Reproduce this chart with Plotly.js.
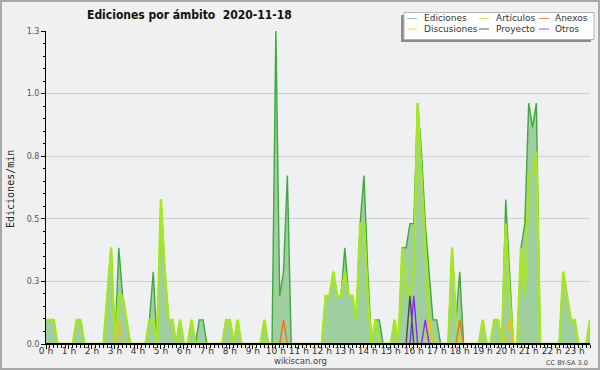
<!DOCTYPE html>
<html><head><meta charset="utf-8">
<script src="https://cdn.plot.ly/plotly-3.0.1.min.js"></script>
<style>
html,body{margin:0;padding:0;background:#f0f0f0;}
#chart{width:600px;height:370px;}
#frame{position:absolute;left:0;top:0;width:596px;height:366px;border:2px solid #a9a9a9;pointer-events:none;}
</style>
</head><body>
<div id="chart"></div><div id="frame"></div>
<script>
// ---- data (edits per minute, 10-minute slots from 00:00) ----
const hourLabels = ['0 h','1 h','2 h','3 h','4 h','5 h','6 h','7 h','8 h','9 h','10 h','11 h',
  '12 h','13 h','14 h','15 h','16 h','17 h','18 h','19 h','20 h','21 h','22 h','23 h'];
const yTickVals = [0, 0.26, 0.52, 0.78, 1.04, 1.3];
const yTickText = ['0.0', '0.3', '0.5', '0.8', '1.0', '1.3'];

const ediciones = [
  0.1,0.1,0.1,0,0,0,   0,0,0.1,0.1,0,0,   0,0,0,0,0.2,0.4,   0,0.4,0.2,0.1,0,0,
  0,0,0,0.1,0.3,0,   0.6,0.3,0.1,0.1,0,0.1,   0,0,0.1,0,0.1,0.1,   0,0,0,0,0,0.1,
  0.1,0,0.1,0,0,0,   0,0,0,0.1,0,0,   1.3,0.2,0.3,0.7,0,0,   0,0,0,0,0,0,
  0,0.2,0.2,0.3,0.2,0.2,   0.4,0.2,0.2,0.1,0.5,0.7,   0.3,0,0.1,0.1,0,0,   0,0.1,0,0.4,0.4,0.5,
  0.5,1.0,0.8,0.5,0.3,0.1,   0.1,0,0,0,0.4,0.1,   0.3,0,0,0,0,0,   0.1,0,0,0.1,0.1,0,
  0.6,0.3,0,0,0.4,0.5,   1.0,0.9,1.0,0,0,0,   0,0,0,0.3,0.2,0.1,   0.1,0,0,0,0.1
];
const articulos = [
  0.1,0.1,0.1,0,0,0,   0,0,0.1,0.1,0,0,   0,0,0,0,0.2,0.4,   0,0.2,0.2,0.1,0,0,
  0,0,0,0.1,0.1,0,   0.6,0.3,0.1,0.1,0,0.1,   0,0,0.1,0,0,0,   0,0,0,0,0,0.1,
  0.1,0,0.1,0,0,0,   0,0,0,0.1,0,0,   0,0,0,0,0,0,   0,0,0,0,0,0,
  0,0.2,0.2,0.3,0.2,0.2,   0.3,0.2,0.2,0.1,0.5,0.5,   0.2,0,0.1,0,0,0,   0,0.1,0,0.4,0.2,0.2,
  0.3,1.0,0.7,0.4,0.1,0,   0,0,0,0,0.4,0.1,   0,0,0,0,0,0,   0.1,0,0,0.1,0.1,0,
  0.5,0.2,0,0,0.4,0.2,   0.7,0.7,0.8,0,0,0,   0,0,0,0.3,0.2,0.1,   0.1,0,0,0,0.1
];
const anexos = [
  0,0,0,0,0,0,   0,0,0,0,0,0,   0,0,0,0,0,0,   0,0,0,0,0,0,
  0,0,0,0,0,0,   0,0,0,0,0,0,   0,0,0,0,0,0,   0,0,0,0,0,0,
  0,0,0,0,0,0,   0,0,0,0,0,0,   0,0,0.1,0,0,0,   0,0,0,0,0,0,
  0,0,0,0,0,0,   0,0,0,0,0,0,   0,0,0,0,0,0,   0,0,0,0,0,0,
  0,0,0,0,0,0,   0,0,0,0,0,0,   0.1,0,0,0,0,0,   0,0,0,0,0,0,
  0,0,0,0,0,0,   0,0,0,0,0,0,   0,0,0,0,0,0,   0,0,0,0,0
];
const discusiones = [
  0,0,0,0,0,0,   0,0,0,0,0,0,   0,0,0,0,0,0,   0,0.1,0,0,0,0,
  0,0,0,0,0,0,   0,0,0,0,0,0,   0,0,0,0,0,0,   0,0,0,0,0,0,
  0,0,0,0,0,0,   0,0,0,0,0,0,   0,0,0,0,0,0,   0,0,0,0,0,0,
  0,0,0,0,0,0,   0,0,0,0,0,0,   0,0,0,0,0,0,   0,0,0,0,0,0,
  0,0,0,0,0.1,0,   0,0,0,0,0,0,   0,0,0,0,0,0,   0,0,0,0,0,0,
  0,0.1,0,0,0,0,   0,0,0,0,0,0,   0,0,0,0,0,0,   0,0,0,0,0
];
const proyecto = [
  0,0,0,0,0,0,   0,0,0,0,0,0,   0,0,0,0,0,0,   0,0,0,0,0,0,
  0,0,0,0,0,0,   0,0,0,0,0,0,   0,0,0,0,0,0,   0,0,0,0,0,0,
  0,0,0,0,0,0,   0,0,0,0,0,0,   0,0,0,0,0,0,   0,0,0,0,0,0,
  0,0,0,0,0,0,   0,0,0,0,0,0,   0,0,0,0,0,0,   0,0,0,0,0,0.2,
  0,0,0,0,0,0,   0,0,0,0,0,0,   0,0,0,0,0,0,   0,0,0,0,0,0,
  0,0,0,0,0,0,   0,0,0,0,0,0,   0,0,0,0,0,0,   0,0,0,0,0
];
const otros = [
  0,0,0,0,0,0,   0,0,0,0,0,0,   0,0,0,0,0,0,   0,0,0,0,0,0,
  0,0,0,0,0,0,   0,0,0,0,0,0,   0,0,0,0,0,0,   0,0,0,0,0,0,
  0,0,0,0,0,0,   0,0,0,0,0,0,   0,0,0,0,0,0,   0,0,0,0,0,0,
  0,0,0,0,0,0,   0,0,0,0,0,0,   0,0,0,0,0,0,   0,0,0,0,0,0,
  0.2,0,0,0.1,0,0,   0,0,0,0,0,0,   0,0,0,0,0,0,   0,0,0,0,0,0,
  0,0,0,0,0,0,   0,0,0,0,0,0,   0,0,0,0,0,0,   0,0,0,0,0
];
const seriesNames = ['Ediciones','Artículos','Anexos','Discusiones','Proyecto','Otros'];

// ---- x grid: minutes of the day for each 10-minute slot ----
const minutes = ediciones.map((_, i) => i * 10);
const hourTickVals = hourLabels.map((_, h) => h * 60);

// ---- styles ----
const S = {
  ediciones: {line: '#3fa83f', fill: '#a0cf9f', legend: '#8fd08f'},
  articulos: {line: '#a6e622', legend: '#c6ec5c'},
  anexos: {line: '#f07222', legend: '#f2875a'},
  discusiones: {line: '#f0c11c', legend: '#f2d25a'},
  proyecto: {line: '#4a4a4a', legend: '#5a5a5a'},
  otros: {line: '#8a2cf0', legend: '#9b55ee'}
};
const FONT = 'DejaVu Sans';

const traces = [
  {x: minutes, y: ediciones, name: seriesNames[0], type: 'scatter', mode: 'lines', fill: 'tozeroy',
   fillcolor: S.ediciones.fill, line: {color: S.ediciones.line, width: 1.4}},
  {x: minutes, y: articulos, name: seriesNames[1], type: 'scatter', mode: 'lines',
   line: {color: S.articulos.line, width: 2.4}},
  {x: minutes, y: anexos, name: seriesNames[2], type: 'scatter', mode: 'lines',
   line: {color: S.anexos.line, width: 1.4}},
  {x: minutes, y: discusiones, name: seriesNames[3], type: 'scatter', mode: 'lines',
   line: {color: S.discusiones.line, width: 1.4}},
  {x: minutes, y: proyecto, name: seriesNames[4], type: 'scatter', mode: 'lines',
   line: {color: S.proyecto.line, width: 1.4}},
  {x: minutes, y: otros, name: seriesNames[5], type: 'scatter', mode: 'lines',
   line: {color: S.otros.line, width: 1.4}}
];

// ---- pixel helpers for decorations (plot area: x 46..590, y 31..344) ----
const PL = 46, PW = 544, PB = 344, PH = 313;
const px = v => (v - PL) / PW;
const py = v => (PB - v) / PH;

const shapes = [
  // zero baseline cover (axis)
  {type: 'line', xref: 'paper', yref: 'y', x0: 0, x1: 1, y0: 0, y1: 0, layer: 'above',
   line: {color: '#000', width: 2}},
  // legend shadow + box
  {type: 'rect', xref: 'paper', yref: 'paper', x0: px(401), x1: px(591), y0: py(42), y1: py(15),
   fillcolor: '#8c8c8c', line: {width: 0}},
  {type: 'rect', xref: 'paper', yref: 'paper', x0: px(404), x1: px(594), y0: py(39.5), y1: py(12.5),
   fillcolor: '#ffffff', line: {color: '#b4b4b4', width: 1}}
];
const annotations = [
  {text: 'Ediciones por ámbito \u00a02020-11-18', xref: 'paper', yref: 'paper', x: px(189), y: py(14.5),
   xanchor: 'center', yanchor: 'middle', showarrow: false,
   font: {family: 'DejaVu Sans Condensed, DejaVu Sans', size: 12, color: '#111', weight: 'bold'}},
  {text: 'Ediciones/min', xref: 'paper', yref: 'paper', x: px(10), y: py(189), textangle: -90,
   xanchor: 'center', yanchor: 'middle', showarrow: false,
   font: {family: 'DejaVu Sans Mono', size: 10, color: '#222'}},
  {text: 'wikiscan.org', xref: 'paper', yref: 'paper', x: px(300), y: py(361.5),
   xanchor: 'center', yanchor: 'middle', showarrow: false,
   font: {family: FONT, size: 8.5, color: '#444'}},
  {text: 'CC BY-SA 3.0', xref: 'paper', yref: 'paper', x: px(590), y: py(362.5),
   xanchor: 'right', yanchor: 'middle', showarrow: false,
   font: {family: FONT, size: 6.5, color: '#444'}}
];
// manual legend (3 columns x 2 rows)
const legendKeys = ['ediciones','articulos','anexos','discusiones','proyecto','otros'];
const colLine = [407, 479, 539], colText = [423, 495, 554], rowY = [18.5, 29];
seriesNames.forEach((name, k) => {
  const c = k % 3, r = Math.floor(k / 3);
  shapes.push({type: 'line', xref: 'paper', yref: 'paper', x0: px(colLine[c]), x1: px(colLine[c] + 10),
    y0: py(rowY[r]), y1: py(rowY[r]), line: {color: S[legendKeys[k]].legend, width: 1}});
  annotations.push({text: name, xref: 'paper', yref: 'paper', x: px(colText[c]), y: py(rowY[r]),
    xanchor: 'left', yanchor: 'middle', showarrow: false, borderpad: 0,
    font: {family: FONT, size: 9, color: '#333'}});
});

const layout = {
  width: 600, height: 370,
  margin: {l: 46, r: 10, t: 31, b: 26, pad: 0},
  paper_bgcolor: '#f0f0f0', plot_bgcolor: '#eff0f1',
  showlegend: false,
  xaxis: {range: [0, 1420], tickmode: 'array', tickvals: hourTickVals, ticktext: hourLabels,
    ticks: 'outside', ticklen: 4, tickcolor: '#000', tickwidth: 1, ticklabelstandoff: -6,
    showline: true, linecolor: '#000', linewidth: 1, showgrid: false, zeroline: false,
    tickfont: {family: FONT, size: 9, color: '#333'}, fixedrange: true,
    minor: {tickmode: 'linear', tick0: 0, dtick: 10, ticks: 'outside', ticklen: 3, tickcolor: '#000', showgrid: false}},
  yaxis: {range: [0, 1.3], tickmode: 'array', tickvals: yTickVals, ticktext: yTickText,
    ticks: 'outside', ticklen: 4, tickcolor: '#000', tickwidth: 1,
    showline: true, linecolor: '#000', linewidth: 1, showgrid: true, gridcolor: '#d0d0d0', gridwidth: 1,
    zeroline: false, tickfont: {family: FONT, size: 8, color: '#555'}, fixedrange: true,
    minor: {tickmode: 'linear', tick0: 0, dtick: 0.052, ticks: 'outside', ticklen: 2, tickcolor: '#000', showgrid: false}},
  shapes: shapes,
  annotations: annotations
};
Plotly.newPlot('chart', traces, layout, {staticPlot: true, displayModeBar: false});
</script>
</body></html>
